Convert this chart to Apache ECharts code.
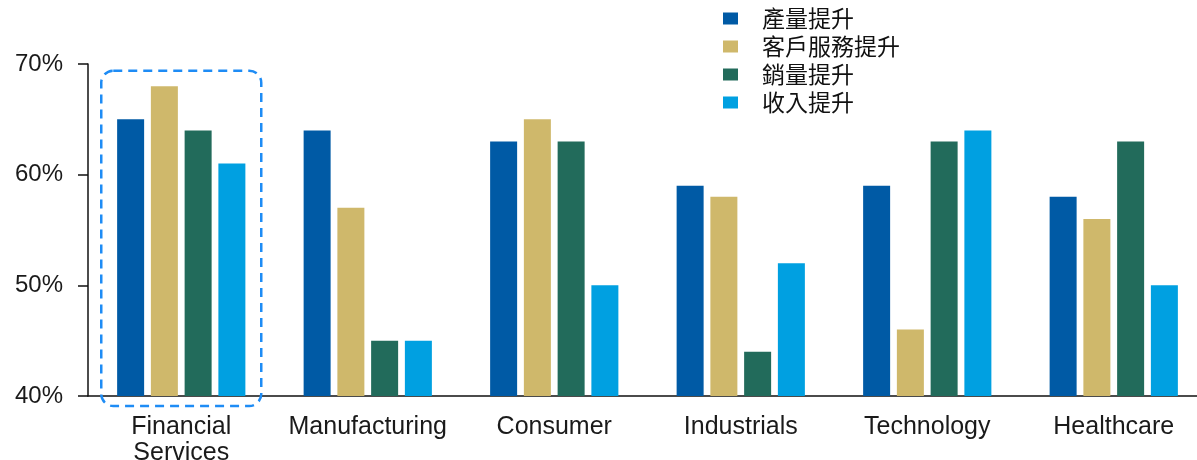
<!DOCTYPE html>
<html>
<head>
<meta charset="utf-8">
<script src="https://cdn.jsdelivr.net/npm/echarts@6/dist/echarts.min.js"></script>
<style>
  html, body { margin: 0; padding: 0; background: #fff; overflow: hidden; }
  #chart { width: 1197px; height: 460px; }
</style>
</head>
<body>
<div id="chart"></div>
<script>
// Sectors along the x axis
const categories = ['Financial\nServices', 'Manufacturing', 'Consumer', 'Industrials', 'Technology', 'Healthcare'];

// Share of respondents (%) by expected benefit
const seriesNames = ['產量提升', '客戶服務提升', '銷量提升', '收入提升'];
const productivity = [65, 64, 63, 59, 59, 58];
const customerService = [68, 57, 65, 58, 46, 56];
const salesVolume = [64, 45, 63, 44, 63, 63];
const revenue = [61, 45, 50, 52, 64, 50];

const yTicks = [40, 50, 60, 70];
const colors = ['#005aa5', '#cfb86b', '#226b5b', '#00a0e1'];

const LATIN = '"Liberation Sans", Arial, sans-serif';
const CJK = '"Noto Sans CJK TC", "Liberation Sans", sans-serif';
const chart = echarts.init(document.getElementById('chart'));

const values = [productivity, customerService, salesVolume, revenue];

chart.setOption({
  animation: false,
  color: colors,
  textStyle: { fontFamily: LATIN },
  legend: {
    orient: 'vertical',
    left: 723,
    top: 7,
    padding: 0,
    itemWidth: 15,
    itemHeight: 12,
    itemGap: 5,
    icon: 'rect',
    textStyle: { fontSize: 23, lineHeight: 23, color: '#111', fontFamily: CJK, padding: [0, 0, 0, 19] },
    data: seriesNames
  },
  grid: { left: 88, right: -10, top: 64, bottom: 64, containLabel: false, outerBoundsMode: 'none' },
  xAxis: {
    type: 'category',
    data: categories,
    axisLine: { lineStyle: { color: '#111', width: 1.5 } },
    axisTick: { show: false },
    axisLabel: { interval: 0, fontSize: 25, color: '#1a1a1a', margin: 18, lineHeight: 26, fontFamily: LATIN }
  },
  yAxis: {
    type: 'value',
    min: yTicks[0],
    max: yTicks[yTicks.length - 1],
    interval: 10,
    axisLine: { show: true, lineStyle: { color: '#111', width: 1.5 } },
    axisTick: { show: true, length: 10, lineStyle: { color: '#111', width: 1.5 } },
    splitLine: { show: false },
    axisLabel: { fontSize: 24, color: '#1a1a1a', margin: 25, formatter: '{value}%', fontFamily: LATIN }
  },
  series: seriesNames.map((name, i) => ({
    name,
    type: 'bar',
    data: values[i],
    barWidth: 27,
    barGap: '25%'
  }))
});

// Dashed highlight around the first sector group
function drawHighlight() {
  const cx = chart.convertToPixel({ xAxisIndex: 0 }, 0);
  const left = cx - 80;
  const right = cx + 80;
  const top = chart.convertToPixel({ yAxisIndex: 0 }, 69.4);
  const bottom = chart.convertToPixel({ yAxisIndex: 0 }, yTicks[0]) + 10;
  chart.setOption({
    graphic: [{
      type: 'rect',
      shape: { x: left, y: top, width: right - left, height: bottom - top, r: 12 },
      style: { fill: 'none', stroke: '#1e8cf5', lineWidth: 2.5, lineDash: [9, 6] },
      z: 10
    }]
  });
}
drawHighlight();
</script>
</body>
</html>
